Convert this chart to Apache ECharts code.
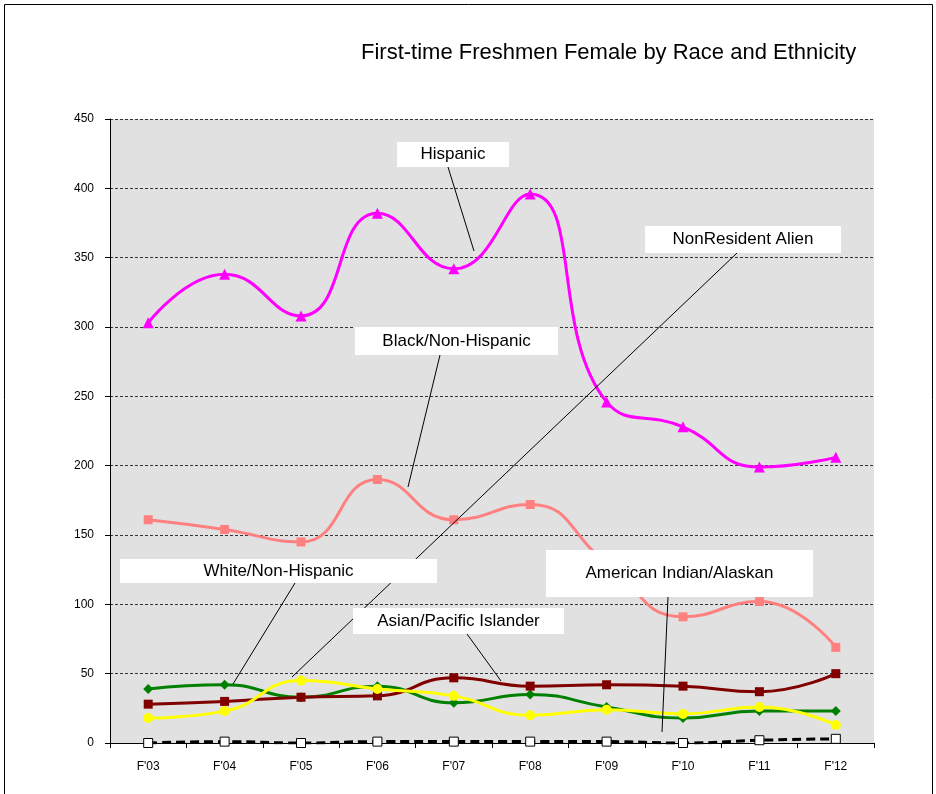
<!DOCTYPE html>
<html>
<head>
<meta charset="utf-8">
<script src="https://cdn.jsdelivr.net/npm/echarts@6/dist/echarts.min.js"></script>
<style>
  html, body { margin: 0; padding: 0; background: #fff; }
  #chart-container { width: 936px; height: 794px; }
</style>
</head>
<body>
<div id="chart-container"></div>
<script>
// categories (fall terms)
var terms = ["F'03", "F'04", "F'05", "F'06", "F'07", "F'08", "F'09", "F'10", "F'11", "F'12"];

// female first-time freshmen
var hispanic = [303, 338, 308, 382, 342, 396, 246, 228, 199, 206];
var blackNonHispanic = [161, 154, 145, 190, 161, 172, 130, 91, 102, 69];
var whiteNonHispanic = [39, 42, 33, 41, 29, 35, 26, 18, 23, 23];
var asianPacific = [28, 30, 33, 34, 47, 41, 42, 41, 37, 50];
var nonResident = [18, 23, 45, 39, 34, 20, 24, 21, 26, 13];
var americanIndian = [0, 1, 0, 1, 1, 1, 1, 0, 2, 3];

var yTicks = [0, 50, 100, 150, 200, 250, 300, 350, 400, 450];

var FONT = '"Liberation Sans", Arial, sans-serif';

// callout boxes with leader lines (layout only)
var callouts = [
    { text: 'Hispanic', box: [397, 142, 112, 25], from: [448, 167], to: [474, 251] },
    { text: 'NonResident Alien', box: [645, 226, 196, 27], from: [737, 253], to: [292, 677] },
    { text: 'Black/Non-Hispanic', box: [355, 327, 203, 28], from: [440, 355], to: [408, 487] },
    { text: 'White/Non-Hispanic', box: [120, 559, 317, 24], from: [295, 583], to: [233, 684] },
    { text: 'Asian/Pacific Islander', box: [353, 608, 211, 26], from: [467, 634], to: [501, 681] },
    { text: 'American Indian/Alaskan', box: [546, 550, 267, 47], from: [668, 597], to: [662, 732] }
];

function buildSeries(name, values, color, symbol, size, extra) {
    var s = {
        name: name,
        type: 'line',
        data: values,
        smooth: 0.5,
        symbol: symbol,
        symbolSize: size,
        lineStyle: { color: color, width: 3 },
        itemStyle: { color: color },
        emphasis: { disabled: true }
    };
    return Object.assign(s, extra || {});
}

var myChart = echarts.init(document.getElementById('chart-container'), null, { renderer: 'canvas' });

var graphics = [
    {
        type: 'rect',
        shape: { x: 4.5, y: 4.5, width: 928, height: 800 },
        style: { fill: 'none', stroke: '#000', lineWidth: 1 },
        silent: true
    }
];

callouts.forEach(function (c) {
    graphics.push({
        type: 'line',
        shape: { x1: c.from[0], y1: c.from[1], x2: c.to[0], y2: c.to[1] },
        style: { stroke: '#000', lineWidth: 1 },
        z: 100
    });
    graphics.push({
        type: 'rect',
        shape: { x: c.box[0], y: c.box[1], width: c.box[2], height: c.box[3] },
        style: { fill: '#fff' },
        z: 101
    });
    graphics.push({
        type: 'text',
        x: c.box[0] + c.box[2] / 2,
        y: c.box[1] + c.box[3] / 2,
        style: {
            text: c.text,
            fill: '#000',
            font: '17px ' + FONT,
            align: 'center',
            verticalAlign: 'middle'
        },
        z: 102
    });
});

var option = {
    animation: false,
    backgroundColor: '#fff',
    title: {
        text: 'First-time Freshmen Female by Race and Ethnicity',
        left: 356,
        top: 37,
        textStyle: { fontFamily: FONT, fontSize: 22, fontWeight: 'normal', color: '#000' }
    },
    grid: {
        left: 110,
        top: 119,
        width: 764,
        height: 624,
        show: true,
        backgroundColor: '#e1e1e1',
        borderWidth: 0
    },
    xAxis: {
        type: 'category',
        data: terms,
        boundaryGap: true,
        axisLine: { lineStyle: { color: '#000', width: 1 } },
        axisTick: { show: true, length: 5, inside: false, lineStyle: { color: '#000' } },
        axisLabel: { color: '#000', fontFamily: FONT, fontSize: 12, margin: 18 },
        splitLine: { show: false }
    },
    yAxis: {
        type: 'value',
        min: yTicks[0],
        max: yTicks[yTicks.length - 1],
        interval: 50,
        axisLine: { show: true, lineStyle: { color: '#000', width: 1 } },
        axisTick: { show: true, length: 5, lineStyle: { color: '#000' } },
        axisLabel: { color: '#000', fontFamily: FONT, fontSize: 12, margin: 16 },
        splitLine: { show: true, lineStyle: { color: '#333', type: [3, 2], width: 1 } }
    },
    series: [
        buildSeries('Hispanic', hispanic, '#ff00ff', 'triangle', 11),
        buildSeries('Black/Non-Hispanic', blackNonHispanic, '#ff8080', 'rect', 9),
        buildSeries('White/Non-Hispanic', whiteNonHispanic, '#008000', 'diamond', 10),
        buildSeries('Asian/Pacific Islander', asianPacific, '#800000', 'rect', 9),
        buildSeries('NonResident Alien', nonResident, '#ffff00', 'circle', 10),
        buildSeries('American Indian/Alaskan', americanIndian, '#000000', 'rect', 9, {
            lineStyle: { color: '#000', width: 3, type: [9, 5] },
            itemStyle: { color: '#fff', borderColor: '#000', borderWidth: 1 }
        })
    ],
    graphic: graphics
};

myChart.setOption(option);
</script>
</body>
</html>
